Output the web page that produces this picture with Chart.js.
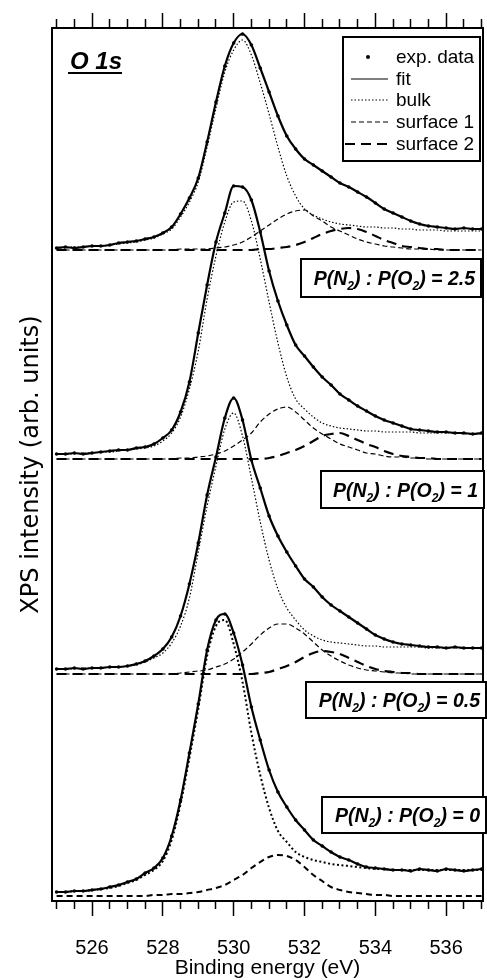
<!DOCTYPE html>
<html>
<head>
<meta charset="utf-8">
<script src="https://cdn.jsdelivr.net/npm/chart.js@4.4.0/dist/chart.umd.min.js"></script>
<style>
  html, body { margin: 0; padding: 0; background: #fff; }
  #wrap { width: 487px; height: 980px; }
</style>
</head>
<body>
<div id="wrap"><canvas id="xps" width="487" height="980"></canvas></div>
<script>
// binding energies (eV) shared by all spectra
var energies = [525, 525.25, 525.5, 525.75, 526, 526.25, 526.5, 526.75, 527, 527.25,
    527.5, 527.75, 528, 528.25, 528.5, 528.75, 529, 529.25, 529.5, 529.75,
    530, 530.25, 530.5, 530.75, 531, 531.25, 531.5, 531.75, 532, 532.25,
    532.5, 532.75, 533, 533.25, 533.5, 533.75, 534, 534.25, 534.5, 534.75,
    535, 535.25, 535.5, 535.75, 536, 536.25, 536.5, 536.75, 537];

// axis ticks
var tickValues = [525, 525.5, 526, 526.5, 527, 527.5, 528, 528.5, 529, 529.5, 530, 530.5, 531,
    531.5, 532, 532.5, 533, 533.5, 534, 534.5, 535, 535.5, 536, 536.5, 537];
var majorTicks = [526, 528, 530, 532, 534, 536];

// P(N2):P(O2) ratios, top to bottom, and vertical offset of each spectrum (arb. units)
var ratios = ['2.5', '1', '0.5', '0'];
var offsets = [651, 442, 227, 5];

var legendLabels = ['exp. data', 'fit', 'bulk', 'surface 1', 'surface 2'];
var panelLabel = 'O 1s';

// ratio 2.5
var exp25 = [2, 3, 2, 3, 4, 4, 5, 7, 8, 9,
    11, 13, 17, 23, 36, 52, 72, 108, 148, 184,
    207, 216, 205, 182, 158, 134, 114, 101, 91, 85,
    79, 73, 67, 63, 58, 53, 47, 41, 37, 33,
    29, 26, 24, 23, 22, 21, 22, 21, 21];
var bulk25 = [2, 2, 3, 3, 4, 4, 5, 6, 7, 8,
    10, 12, 16, 21, 33, 48, 68, 103, 142, 178,
    200, 210, 195, 167, 136, 103, 74, 54, 41, 35,
    31, 28, 26, 25, 24, 23, 23, 22, 22, 21,
    21, 20, 20, 20, 19, 19, 19, 19, 19];
var surf1_25 = [0, 0, 0, 0, 0, 0, 0, 0, 0, 0,
    0, 0, 0, 0, 1, 1, 1, 1, 2, 3,
    5, 8, 13, 19, 25, 31, 36, 39, 40, 34,
    29, 23, 19, 15, 11, 8, 6, 4, 3, 2,
    1, 1, 1, 0, 0, 0, 0, 0, 0];
var surf2_25 = [0, 0, 0, 0, 0, 0, 0, 0, 0, 0,
    0, 0, 0, 0, 0, 0, 0, 0, 0, 0,
    0, 0, 0, 1, 1, 2, 3, 5, 8, 12,
    16, 19, 21, 22, 21, 18, 14, 10, 7, 4,
    3, 2, 1, 1, 0, 0, 0, 0, 0];

// ratio 1
var exp1 = [5, 5, 6, 5, 6, 7, 8, 9, 9, 11,
    12, 15, 21, 29, 47, 77, 126, 174, 217, 246,
    273, 272, 259, 227, 188, 158, 134, 114, 103, 92,
    82, 74, 65, 59, 53, 48, 43, 39, 36, 33,
    30, 29, 28, 27, 27, 26, 26, 25, 26];
var bulk1 = [5, 5, 5, 6, 6, 7, 7, 8, 9, 10,
    11, 13, 18, 26, 42, 70, 108, 160, 203, 237,
    257, 258, 238, 200, 157, 116, 82, 60, 50, 42,
    36, 33, 31, 30, 29, 28, 28, 27, 27, 27,
    27, 26, 26, 26, 26, 26, 25, 25, 25];
var surf1_1 = [0, 0, 0, 0, 0, 0, 0, 0, 0, 0,
    0, 0, 0, 0, 1, 1, 2, 3, 5, 8,
    13, 19, 26, 37, 45, 50, 52, 47, 39, 31,
    25, 20, 15, 12, 9, 6, 5, 3, 2, 2,
    1, 1, 0, 0, 0, 0, 0, 0, 0];
var surf2_1 = [0, 0, 0, 0, 0, 0, 0, 0, 0, 0,
    0, 0, 0, 0, 0, 0, 0, 0, 0, 0,
    0, 0, 0, 0, 1, 3, 6, 9, 13, 18,
    23, 25, 26, 23, 19, 15, 12, 8, 5, 3,
    2, 1, 1, 0, 0, 0, 0, 0, 0];

// ratio 0.5
var exp05 = [5, 5, 6, 5, 6, 6, 7, 7, 8, 10,
    13, 18, 25, 37, 58, 90, 131, 179, 217, 256,
    276, 254, 214, 186, 158, 138, 122, 108, 95, 87,
    77, 69, 63, 57, 51, 45, 39, 35, 32, 30,
    29, 28, 27, 27, 26, 27, 26, 26, 26];
var bulk05 = [5, 5, 5, 6, 6, 6, 7, 7, 8, 9,
    12, 16, 21, 31, 48, 76, 122, 168, 208, 245,
    261, 238, 196, 152, 114, 85, 66, 54, 44, 38,
    34, 32, 31, 30, 29, 28, 28, 27, 27, 27,
    27, 27, 26, 26, 26, 26, 26, 26, 26];
var surf1_05 = [0, 0, 0, 0, 0, 0, 0, 0, 0, 0,
    0, 0, 0, 0, 1, 2, 3, 4, 7, 10,
    15, 22, 30, 39, 46, 50, 50, 46, 40, 32,
    24, 18, 13, 9, 6, 4, 3, 2, 1, 1,
    0, 0, 0, 0, 0, 0, 0, 0, 0];
var surf2_05 = [0, 0, 0, 0, 0, 0, 0, 0, 0, 0,
    0, 0, 0, 0, 0, 0, 0, 0, 0, 0,
    0, 0, 0, 1, 2, 5, 8, 12, 17, 21,
    23, 22, 20, 16, 12, 8, 5, 3, 2, 1,
    1, 0, 0, 0, 0, 0, 0, 0, 0];

// ratio 0 (no surface 2 component)
var exp0 = [4, 4, 5, 5, 6, 7, 9, 11, 14, 17,
    23, 28, 38, 60, 96, 143, 192, 246, 276, 282,
    263, 231, 189, 156, 126, 104, 89, 76, 66, 56,
    50, 44, 39, 36, 32, 29, 28, 27, 26, 26,
    25, 27, 26, 25, 27, 26, 25, 26, 27];
var bulk0 = [4, 4, 5, 5, 6, 7, 8, 10, 13, 16,
    21, 26, 35, 56, 92, 138, 187, 240, 270, 276,
    252, 214, 163, 121, 88, 65, 54, 44, 39, 36,
    34, 32, 31, 30, 29, 28, 27, 27, 26, 26,
    26, 26, 26, 26, 26, 26, 26, 26, 26];
var surf1_0 = [0, 0, 0, 0, 0, 0, 0, 0, 0, 0,
    0, 1, 1, 2, 2, 3, 4, 6, 8, 11,
    16, 21, 28, 34, 39, 41, 40, 36, 29, 21,
    15, 9, 6, 4, 3, 2, 1, 1, 0, 0,
    0, 0, 0, 0, 0, 0, 0, 0, 0];

var spectra = [
    { exp: exp25, bulk: bulk25, s1: surf1_25, s2: surf2_25, offset: offsets[0] },
    { exp: exp1, bulk: bulk1, s1: surf1_1, s2: surf2_1, offset: offsets[1] },
    { exp: exp05, bulk: bulk05, s1: surf1_05, s2: surf2_05, offset: offsets[2] },
    { exp: exp0, bulk: bulk0, s1: surf1_0, s2: null, offset: offsets[3], heavy: true }
];

function toPoints(values, offset) {
    return values.map(function (v, i) {
        return { x: energies[i], y: offset + v };
    });
}

function lineSet(values, offset, width, dash) {
    return {
        data: toPoints(values, offset),
        borderColor: '#000',
        borderWidth: width,
        borderDash: dash,
        pointRadius: 0,
        fill: false,
        cubicInterpolationMode: 'monotone'
    };
}

var datasets = [];
// experimental data first so it is painted on top
spectra.forEach(function (s) {
    datasets.push({
        data: toPoints(s.exp, s.offset),
        borderColor: '#000',
        borderWidth: 2.2,
        pointRadius: 1.8,
        pointBorderWidth: 0,
        pointBackgroundColor: '#000',
        fill: false,
        cubicInterpolationMode: 'monotone'
    });
});
spectra.forEach(function (s) {
    datasets.push(lineSet(s.bulk, s.offset, s.heavy ? 2 : 1.2, s.heavy ? [2, 2.5] : [1.5, 2]));
    datasets.push(lineSet(s.s1, s.offset, s.heavy ? 2 : 1.2, s.heavy ? [6, 4] : [5, 3]));
    if (s.s2) {
        datasets.push(lineSet(s.s2, s.offset, 2.2, [10, 6]));
    }
});

function isMajor(c) {
    return c.tick && majorTicks.indexOf(c.tick.value) !== -1;
}

function setTicks(scale) {
    scale.ticks = tickValues.map(function (v) { return { value: v }; });
}

function drawRatio(ctx, box, value) {
    var l = box[0], t = box[1], r = box[2], b = box[3];
    ctx.fillStyle = '#fff';
    ctx.fillRect(l, t, r - l, b - t);
    ctx.lineWidth = 2;
    ctx.strokeStyle = '#000';
    ctx.strokeRect(l, t, r - l, b - t);

    var big = 'italic bold 19.5px "Liberation Sans"';
    var small = 'italic bold 12px "Liberation Sans"';
    var parts = [['P(N', big, 0], ['2', small, 5], [') : P(O', big, 0], ['2', small, 5], [') = ' + value, big, 0]];
    var total = 0;
    parts.forEach(function (p) { ctx.font = p[1]; total += ctx.measureText(p[0]).width; });
    var x = r - 6 - total;
    var base = (t + b) / 2 + 7;
    ctx.fillStyle = '#000';
    ctx.textAlign = 'left';
    ctx.textBaseline = 'alphabetic';
    parts.forEach(function (p) {
        ctx.font = p[1];
        ctx.fillText(p[0], x, base + p[2]);
        x += ctx.measureText(p[0]).width;
    });
}

var decorations = {
    id: 'decorations',
    afterDraw: function (chart) {
        var ctx = chart.ctx;
        ctx.save();

        // panel label
        ctx.fillStyle = '#000';
        ctx.font = 'italic bold 24px "Liberation Sans"';
        ctx.textAlign = 'left';
        ctx.textBaseline = 'alphabetic';
        ctx.fillText(panelLabel, 70, 69);
        var w = ctx.measureText(panelLabel).width;
        ctx.fillRect(68, 72, w + 2, 2);

        // legend
        ctx.fillStyle = '#fff';
        ctx.fillRect(343, 37, 137, 124);
        ctx.lineWidth = 2;
        ctx.strokeStyle = '#000';
        ctx.strokeRect(343, 37, 137, 124);

        var rows = [57, 79, 100, 122, 144];
        var styles = [null, [1.2, []], [1.2, [1.5, 2]], [1.2, [5, 3]], [2.2, [10, 6]]];
        ctx.font = '19px "Liberation Sans"';
        ctx.textBaseline = 'middle';
        legendLabels.forEach(function (label, i) {
            var y = rows[i];
            ctx.fillStyle = '#000';
            if (i === 0) {
                ctx.beginPath();
                ctx.arc(368, y, 2, 0, Math.PI * 2);
                ctx.fill();
            } else {
                ctx.beginPath();
                ctx.lineWidth = styles[i][0];
                ctx.setLineDash(styles[i][1]);
                ctx.moveTo(i === 4 ? 345 : 351, y);
                ctx.lineTo(388, y);
                ctx.stroke();
                ctx.setLineDash([]);
            }
            ctx.fillText(label, 396, y + 1);
        });

        // ratio boxes
        var boxes = [[301, 259, 481, 297], [321, 471, 484, 508], [306, 682, 486, 718], [322, 797, 486, 833]];
        boxes.forEach(function (box, i) {
            drawRatio(ctx, box, ratios[i]);
        });

        ctx.restore();
    }
};

Chart.defaults.color = '#000';
Chart.defaults.font.family = '"Liberation Sans", Arial, sans-serif';

new Chart(document.getElementById('xps'), {
    type: 'line',
    data: { datasets: datasets },
    options: {
        responsive: false,
        animation: false,
        devicePixelRatio: 1,
        layout: { padding: { left: 0, right: 3, top: 13, bottom: 0 } },
        plugins: {
            legend: { display: false },
            tooltip: { enabled: false }
        },
        scales: {
            x: {
                type: 'linear',
                position: 'bottom',
                min: 524.87,
                max: 537.04,
                afterBuildTicks: setTicks,
                afterFit: function (scale) {
                    // ticks + labels + title, without the extra label padding
                    scale.height = 79;
                    scale.paddingLeft = 0;
                    scale.paddingRight = 0;
                },
                ticks: {
                    autoSkip: false,
                    maxRotation: 0,
                    padding: 22,
                    font: { size: 20, lineHeight: 1 },
                    color: '#000',
                    callback: function (v) {
                        return majorTicks.indexOf(v) !== -1 ? String(v) : '';
                    }
                },
                grid: {
                    drawOnChartArea: false,
                    drawTicks: true,
                    tickLength: 15,
                    tickWidth: 1.5,
                    tickColor: '#000',
                    tickBorderDash: function (c) { return isMajor(c) ? [] : [7, 30]; }
                },
                border: { display: true, color: '#000', width: 2 },
                title: {
                    display: true,
                    text: 'Binding energy (eV)',
                    font: { size: 21, lineHeight: 1 },
                    color: '#000',
                    padding: { top: 0, bottom: 1 }
                }
            },
            x2: {
                type: 'linear',
                position: 'top',
                min: 524.87,
                max: 537.04,
                afterBuildTicks: setTicks,
                ticks: { display: false },
                grid: {
                    drawOnChartArea: false,
                    drawTicks: true,
                    tickLength: 15,
                    tickWidth: 1.5,
                    tickColor: '#000',
                    tickBorderDash: function (c) { return isMajor(c) ? [] : [0, 6, 8, 30]; }
                },
                border: { display: true, color: '#000', width: 2 }
            },
            y: {
                type: 'linear',
                position: 'left',
                min: 0,
                max: 873,
                ticks: { display: false },
                grid: { drawOnChartArea: false, drawTicks: false },
                border: { display: true, color: '#000', width: 2 },
                title: {
                    display: true,
                    text: 'XPS intensity (arb. units)',
                    font: { family: '"DejaVu Sans"', size: 24, lineHeight: 1 },
                    color: '#000',
                    padding: { top: 20, bottom: 8 }
                }
            },
            y2: {
                type: 'linear',
                position: 'right',
                min: 0,
                max: 873,
                ticks: { display: false },
                grid: { drawOnChartArea: false, drawTicks: false },
                border: { display: true, color: '#000', width: 2 }
            }
        }
    },
    plugins: [decorations]
});
</script>
</body>
</html>
